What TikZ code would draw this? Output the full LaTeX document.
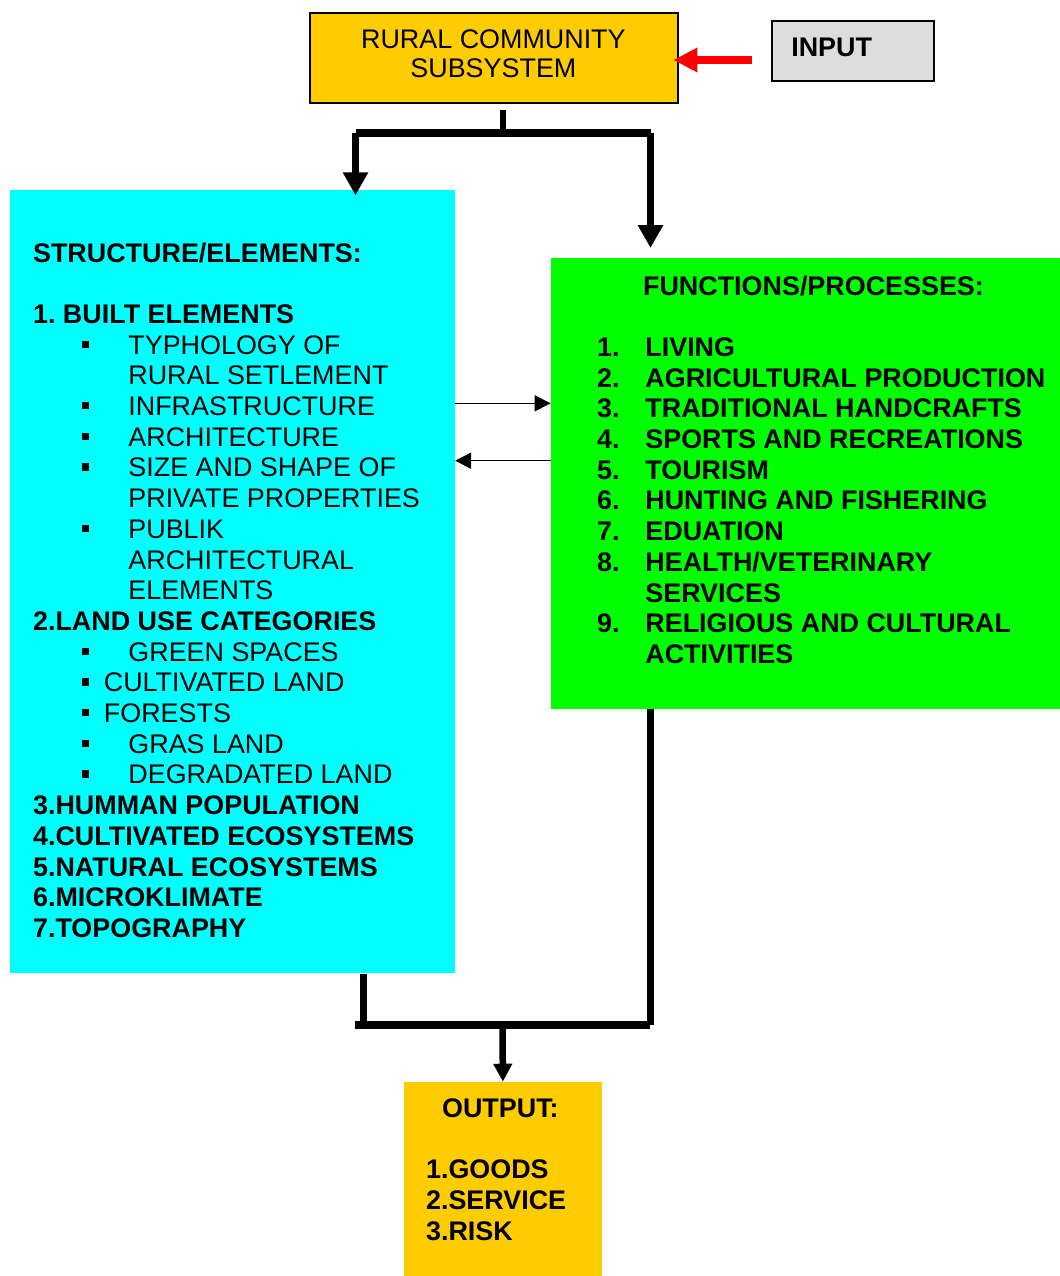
\documentclass[tikz,border=0pt]{standalone}
\usepackage{fontspec}
\setmainfont{Liberation Sans}
\usetikzlibrary{arrows.meta, calc}
\definecolor{gold}{HTML}{FFCC00}
\definecolor{aqua}{HTML}{00FFFF}
\definecolor{brightgreen}{HTML}{00FF00}
\definecolor{inputgray}{HTML}{DDDDDD}
\newcommand{\boxfont}{\fontsize{13.45pt}{15.35pt}\selectfont\frenchspacing}

\begin{document}
\begin{tikzpicture}[x=0.5pt,y=-0.5pt,
	box/.style={rectangle,inner sep=0pt,anchor=north west},
	txt/.style={inner sep=0pt,anchor=base west,font=\boxfont},
	btxt/.style={txt,font=\boxfont\bfseries},
	bus/.style={line width=3.5pt},
	bigarrow/.style={bus,-{Triangle[length=11.5pt,width=12pt]}},
	smallarrow/.style={line width=3.25pt,-{Triangle[length=9pt,width=9pt]}},
	thinarrow/.style={line width=0.65pt,-{Triangle[length=8pt,width=8pt]}},
	redarrow/.style={draw=red,line width=4pt,-{Triangle[length=12pt,width=11.5pt]}}]

	\useasboundingbox (0,0) rectangle (1060,1276);

	% boxes
	\node[box,fill=gold,draw,line width=1pt,minimum width=184pt,minimum height=45pt] (sub) at (309.3,12) {};
	\node[box,fill=inputgray,draw,line width=1pt,minimum width=81pt,minimum height=29.85pt] (inp) at (770.7,20) {};
	\node[box,fill=aqua,minimum width=222.15pt,minimum height=391.85pt] (struct) at (10,189.3) {};
	\node[box,fill=brightgreen,minimum width=254.65pt,minimum height=225.15pt] (func) at (550.7,258) {};
	\node[box,fill=gold,minimum width=99.2pt,minimum height=97.15pt] (out) at (403.3,1081.7) {};

	% top
	\node[txt,anchor=base] (sub1) at (493.4,48) {RURAL COMMUNITY};
	\node[txt,anchor=base] (sub2) at (493.4,77.3) {SUBSYSTEM};
	\node[btxt] (inp1) at (790.9,56) {INPUT};

	\coordinate (feed) at (720,60);
	\draw[redarrow,shorten <=9.35pt,shorten >=-3pt] (inp.west |- feed) -- (sub.east |- feed);

	\coordinate (split) at (502.5,133);
	\coordinate (splitL) at (355.5,133);
	\coordinate (splitR) at (650.5,133);
	\draw[line width=3pt] ($(split |- sub.south)+(0,6)$) -- (split);
	\draw[line width=4pt] (splitL) -- (splitR);
	\draw[bigarrow] (splitL) -- ($(splitL |- struct.north)+(0,6)$);
	\draw[bigarrow] (splitR) -- ($(splitR |- func.north)+(0,-10)$);

	% structure
	\node[btxt] (st0) at (32.7,262) {STRUCTURE/ELEMENTS:};
	\foreach \n/\lbl in {2/1. BUILT ELEMENTS, 12/2.LAND USE CATEGORIES, 18/3.HUMMAN POPULATION,
		19/4.CULTIVATED ECOSYSTEMS, 20/5.NATURAL ECOSYSTEMS, 21/6.MICROKLIMATE, 22/7.TOPOGRAPHY}
		\node[btxt] (st\n) at (32.7,{262+30.7*\n}) {\lbl};
	\foreach \n/\lbl in {3/TYPHOLOGY OF, 4/RURAL SETLEMENT, 5/INFRASTRUCTURE, 6/ARCHITECTURE,
		7/SIZE AND SHAPE OF, 8/PRIVATE PROPERTIES, 9/PUBLIK, 10/ARCHITECTURAL, 11/ELEMENTS,
		13/GREEN SPACES, 16/GRAS LAND, 17/DEGRADATED LAND}
		\node[txt] (st\n) at (128,{262+30.7*\n}) {\lbl};
	\foreach \n/\lbl in {14/CULTIVATED LAND, 15/FORESTS}
		\node[txt] (st\n) at (103.5,{262+30.7*\n}) {\lbl};
	\foreach \n in {3,5,6,7,9,13,14,15,16,17}
		\fill (82,{262+30.7*\n-13.5}) rectangle ++(7.2,7.2);

	% functions
	\node[btxt] (fn0) at (642.7,295) {FUNCTIONS/PROCESSES:};
	\foreach \n/\k in {2/1,3/2,4/3,5/4,6/5,7/6,8/7,9/8,11/9}
		\node[btxt] (fk\n) at (596.7,{295+30.7*\n}) {\k.};
	\foreach \n/\lbl in {2/LIVING, 3/AGRICULTURAL PRODUCTION, 4/TRADITIONAL HANDCRAFTS,
		5/SPORTS AND RECREATIONS, 6/TOURISM, 7/HUNTING AND FISHERING, 8/EDUATION,
		9/{HEALTH/VETERINARY}, 10/SERVICES, 11/RELIGIOUS AND CULTURAL, 12/ACTIVITIES}
		\node[btxt] (fn\n) at (645,{295+30.7*\n}) {\lbl};

	\coordinate (fwd) at (500,403.3);
	\coordinate (bwd) at (500,460.7);
	\draw[thinarrow] (struct.east |- fwd) -- (func.west |- fwd);
	\draw[thinarrow] (func.west |- bwd) -- (struct.east |- bwd);

	% output
	\coordinate (legL) at (363,1029);
	\coordinate (joinL) at (355,1025);
	\coordinate (joinR) at (650,1025);
	\coordinate (join) at (502.5,1025);
	\draw[bus] (struct.south -| legL) -- (legL);
	\draw[bus] (func.south -| joinR) -- (joinR);
	\draw[line width=4pt] (joinL) -- (joinR);
	\draw[smallarrow] (join) -- (out.north);

	\node[btxt] (out0) at (441.7,1117.3) {OUTPUT:};
	\foreach \n/\lbl in {2/1.GOODS, 3/2.SERVICE, 4/3.RISK}
		\node[btxt] (out\n) at (425.7,{1117.3+30.7*\n}) {\lbl};
\end{tikzpicture}
\end{document}
